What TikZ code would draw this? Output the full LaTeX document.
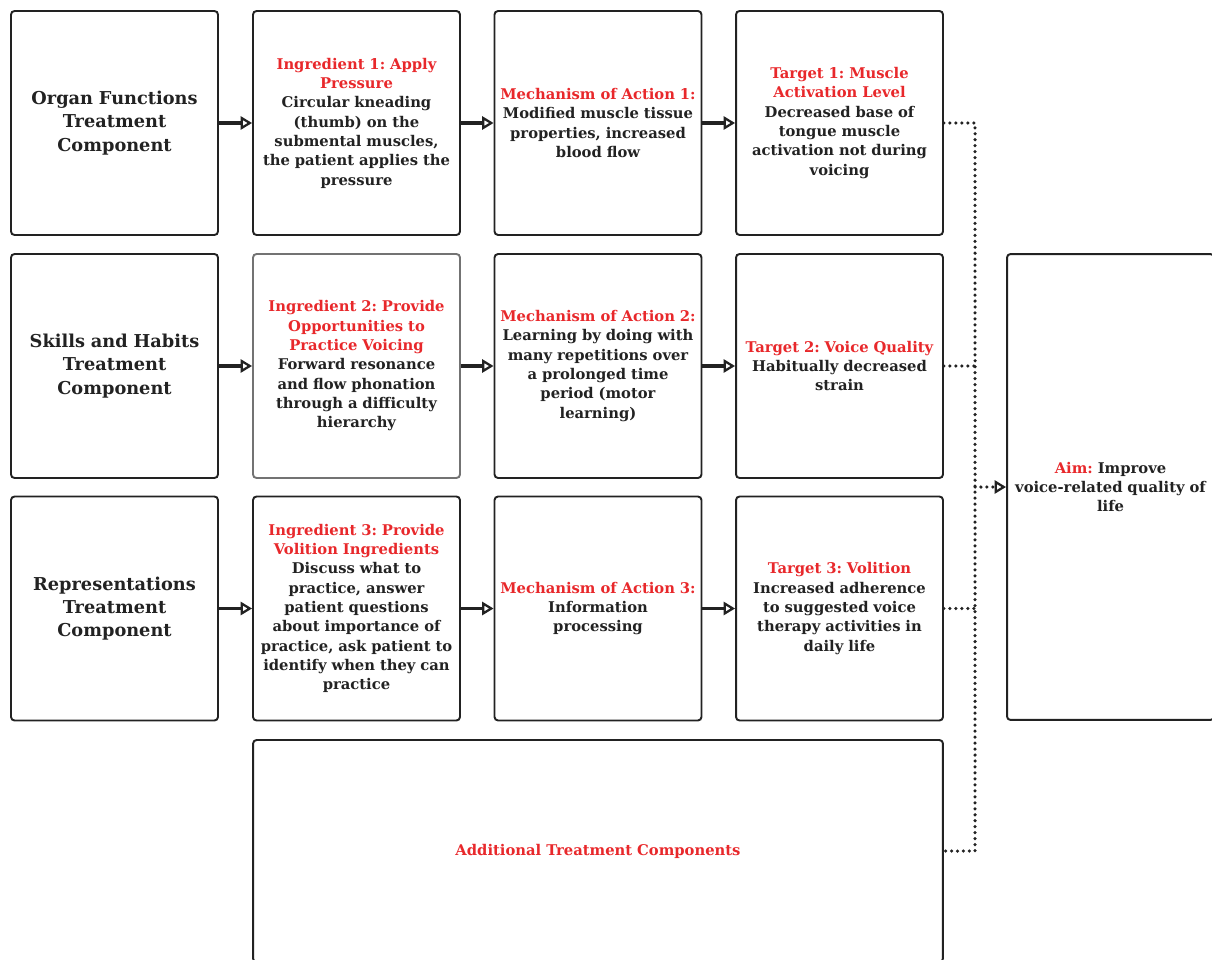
\documentclass[tikz,border=0pt]{standalone}
\usepackage{fontspec}
\setmainfont{DejaVu Serif}
\usepackage{xcolor}
\usetikzlibrary{arrows.meta}
\definecolor{ired}{HTML}{E8282B}
\definecolor{ink}{HTML}{222222}
\newcommand{\hd}{\color{ired}}
\frenchspacing

\begin{document}
\begin{tikzpicture}[x=0.02cm, y=-0.02cm, >={Triangle[open, length=6.5pt, width=7.5pt, line width=1.3pt]},
  font=\bfseries\fontsize{8.4}{11}\selectfont, text=ink,
  box/.style={draw=ink, line width=1.1pt, rounded corners=2pt, align=center, text width=4cm,
    minimum width=4.14cm, minimum height=4.48cm, inner xsep=1pt, inner ysep=2pt},
  comp/.style={box, font=\bfseries\fontsize{10.1}{13.3}\selectfont},
  flow/.style={draw=ink, line width=1.9pt, ->},
  dots/.style={draw=ink, line width=2pt, line cap=round, dash pattern=on 0pt off 3.4pt}]
  \useasboundingbox (0,0) rectangle (1212,959);
  \clip (0,0) rectangle (1212,959);
  % treatment components
  \node[comp] (c1) at (114.5,123) {Organ Functions\\Treatment\\Component};
  \node[comp] (c2) at (114.5,366) {Skills and Habits\\Treatment\\Component};
  \node[comp] (c3) at (114.5,608.5) {Representations\\Treatment\\Component};
  % ingredients
  \node[box] (ing1) at (356.5,123) {{\hd Ingredient 1: Apply\\Pressure}\\Circular kneading\\(thumb) on the\\submental muscles,\\the patient applies the\\pressure};
  \node[box, draw=black!55] (ing2) at (356.5,366) {{\hd Ingredient 2: Provide\\Opportunities to\\Practice Voicing}\\Forward resonance\\and flow phonation\\through a difficulty\\hierarchy};
  \node[box] (ing3) at (356.5,608.5) {{\hd Ingredient 3: Provide\\Volition Ingredients}\\Discuss what to\\practice, answer\\patient questions\\about importance of\\practice, ask patient to\\identify when they can\\practice};
  % mechanisms
  \node[box] (mech1) at (598,123) {{\hd Mechanism of Action 1:}\\Modified muscle tissue\\properties, increased\\blood flow};
  \node[box] (mech2) at (598,366) {{\hd Mechanism of Action 2:}\\Learning by doing with\\many repetitions over\\a prolonged time\\period (motor\\learning)};
  \node[box] (mech3) at (598,608.5) {{\hd Mechanism of Action 3:}\\Information\\processing};
  % targets
  \node[box] (tgt1) at (839.5,123) {{\hd Target 1: Muscle\\Activation Level}\\Decreased base of\\tongue muscle\\activation not during\\voicing};
  \node[box] (tgt2) at (839.5,366) {{\hd Target 2: Voice Quality}\\Habitually decreased\\strain};
  \node[box] (tgt3) at (839.5,608.5) {{\hd Target 3: Volition}\\Increased adherence\\to suggested voice\\therapy activities in\\daily life};
  \node[box, text width=13cm, minimum width=13.8cm, minimum height=4.44cm] (extra) at (598,851) {{\hd Additional Treatment Components}};
  % aim
  \node[box, minimum height=9.32cm] (aim) at (1110.5,487) {{\hd Aim:} Improve\\voice-related quality of\\life};
  \coordinate (join) at (975,487);
  % solid arrows along each row
  \foreach \r in {1,2,3} {
    \draw[flow] (c\r) -- (ing\r);
    \draw[flow] (ing\r) -- (mech\r);
    \draw[flow] (mech\r) -- (tgt\r);
  }
  % dotted lines into the aim
  \draw[dots] (tgt1.east) -| (join) |- (extra.east);
  \draw[dots] (tgt2.east) -- (tgt2.east -| join);
  \draw[dots] (tgt3.east) -- (tgt3.east -| join);
  \draw[dots, ->] (join) -- (aim.west);
\end{tikzpicture}
\end{document}
